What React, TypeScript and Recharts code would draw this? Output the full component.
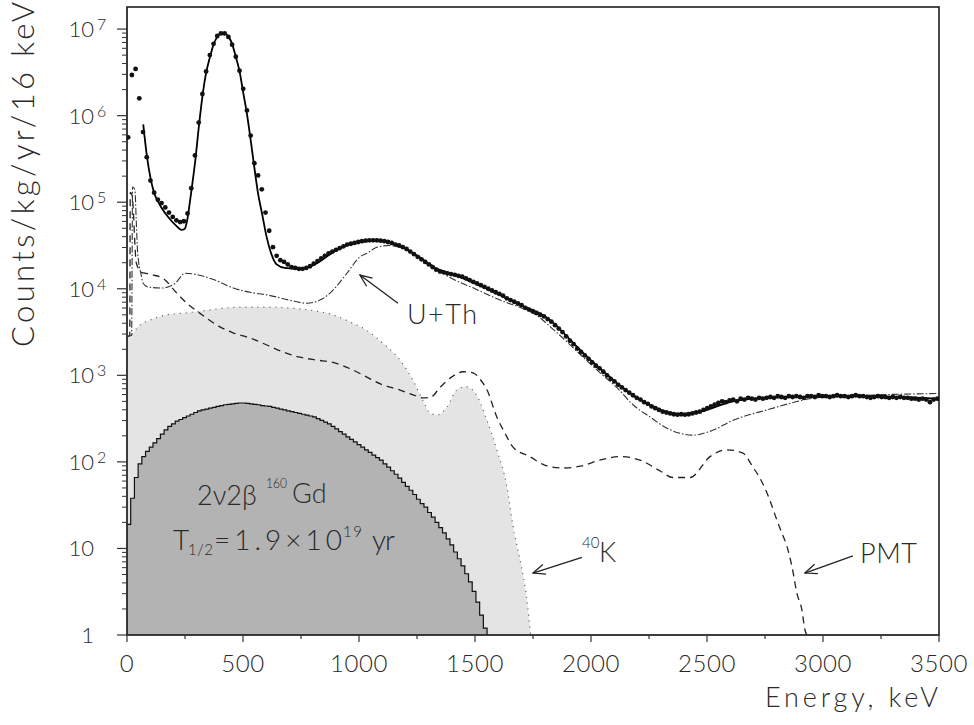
import { Area, ComposedChart, Line, ReferenceArea, ReferenceLine, Scatter, XAxis, YAxis } from "recharts"

// measured spectrum, 16 keV bins: [keV, counts]
const measured: [number, number][] = [
  [5, 562000], [21, 2950000], [37, 3470000], [53, 1585000], [69, 646000], [85, 331000], [101, 178000], [117, 129000],
  [133, 107000], [149, 97700], [165, 87100], [181, 75900], [197, 67600], [213, 61700], [229, 58900], [245, 60300],
  [261, 74100], [277, 145000], [293, 347000], [309, 832000], [325, 1780000], [341, 3240000], [357, 5010000], [373, 6760000],
  [389, 8320000], [405, 8910000], [421, 8910000], [437, 8130000], [453, 6610000], [469, 4790000], [485, 3310000], [501, 2040000],
  [517, 1150000], [533, 589000], [549, 282000], [565, 204000], [581, 141000], [597, 75900], [613, 46800], [629, 30200],
  [645, 24000], [661, 21400], [677, 20400], [693, 19100], [709, 17800], [725, 17400], [741, 17000], [757, 17000],
  [773, 17400], [789, 18200], [805, 19500], [821, 20900], [837, 22400], [853, 24000], [869, 25700], [885, 26900],
  [901, 28200], [917, 29500], [933, 30900], [949, 32400], [965, 33100], [981, 33900], [997, 34700], [1013, 35500],
  [1029, 35900], [1045, 36300], [1061, 36300], [1077, 36300], [1093, 35900], [1109, 35500], [1125, 34700], [1141, 33900],
  [1157, 32400], [1173, 31600], [1189, 30200], [1205, 28800], [1221, 26900], [1237, 25100], [1253, 23400], [1269, 21900],
  [1285, 20400], [1301, 19100], [1317, 17800], [1333, 16600], [1349, 15800], [1365, 15500], [1381, 15100], [1397, 14800],
  [1413, 14500], [1429, 14100], [1445, 13800], [1461, 13200], [1477, 12600], [1493, 12000], [1509, 11500], [1525, 11000],
  [1541, 10500], [1557, 10000], [1573, 9550], [1589, 9120], [1605, 8710], [1621, 8320], [1637, 7760], [1653, 7410],
  [1669, 7080], [1685, 6760], [1701, 6460], [1717, 6030], [1733, 5750], [1749, 5500], [1765, 5250], [1781, 5010],
  [1797, 4790], [1813, 4470], [1829, 4170], [1845, 3800], [1861, 3470], [1877, 3160], [1893, 2820], [1909, 2510],
  [1925, 2290], [1941, 2040], [1957, 1860], [1973, 1700], [1989, 1550], [2005, 1410], [2021, 1290], [2037, 1200],
  [2053, 1100], [2069, 1000], [2085, 912], [2101, 851], [2117, 776], [2133, 724], [2149, 676], [2165, 631],
  [2181, 589], [2197, 550], [2213, 525], [2229, 490], [2245, 468], [2261, 437], [2277, 417], [2293, 398],
  [2309, 380], [2325, 372], [2341, 363], [2357, 355], [2373, 351], [2389, 355], [2405, 351], [2421, 355],
  [2437, 363], [2453, 372], [2469, 380], [2485, 398], [2501, 417], [2517, 437], [2533, 457], [2549, 479],
  [2565, 501], [2581, 490], [2597, 513], [2613, 525], [2629, 501], [2645, 537], [2661, 525], [2677, 550],
  [2693, 537], [2709, 525], [2725, 550], [2741, 537], [2757, 550], [2773, 562], [2789, 550], [2805, 575],
  [2821, 562], [2837, 550], [2853, 575], [2869, 562], [2885, 575], [2901, 562], [2917, 550], [2933, 575],
  [2949, 575], [2965, 562], [2981, 589], [2997, 575], [3013, 575], [3029, 562], [3045, 575], [3061, 589],
  [3077, 575], [3093, 575], [3109, 562], [3125, 575], [3141, 589], [3157, 575], [3173, 575], [3189, 562],
  [3205, 550], [3221, 562], [3237, 575], [3253, 562], [3269, 562], [3285, 550], [3301, 562], [3317, 550],
  [3333, 562], [3349, 550], [3365, 550], [3381, 537], [3397, 537], [3413, 525], [3429, 537], [3445, 525],
  [3461, 490], [3477, 525], [3493, 537],
]

// total fit
const fit: [number, number][] = [
  [70, 794000], [85, 355000], [102, 186000], [118, 126000], [135, 100000], [150, 85100], [180, 66100], [215, 52500],
  [235, 47900], [248, 49000], [260, 63100], [270, 95500], [282, 166000], [293, 282000], [310, 759000], [325, 1660000],
  [340, 3020000], [358, 4790000], [373, 6610000], [389, 8130000], [405, 8910000], [421, 8910000], [438, 8130000],
  [453, 6760000], [469, 4790000], [486, 3160000], [500, 1910000], [517, 1050000], [533, 525000], [549, 251000],
  [565, 126000], [582, 74100], [600, 41700], [620, 26300], [645, 19100], [680, 17400], [745, 17000], [800, 18600],
  [888, 26300], [975, 33900], [1060, 36300], [1177, 31600], [1250, 24000], [1320, 17800], [1392, 15100], [1534, 10500],
  [1681, 6760], [1823, 4370], [1900, 2750], [1966, 1820], [2039, 1200], [2112, 813], [2181, 589], [2254, 457],
  [2370, 355], [2470, 380], [2612, 501], [2758, 550], [2900, 562], [3190, 575], [3332, 562], [3500, 537],
]

// U+Th model (dash-dot)
const uTh: [number, number][] = [
  [0, 2800], [20, 2900], [24, 150000], [34, 140000], [40, 60000], [46, 26000], [60, 15000], [70, 11500],
  [90, 10500], [150, 10200], [207, 11500], [250, 15100], [379, 12600], [458, 10200], [552, 8900], [603, 8500],
  [700, 7400], [775, 6800], [832, 7400], [875, 8900], [948, 15100], [1004, 23400], [1034, 25700], [1077, 30200],
  [1130, 31600], [1177, 30200], [1250, 24500], [1300, 20000], [1392, 13500], [1500, 10000], [1608, 7400], [1700, 6000],
  [1750, 5250], [1850, 3160], [1966, 1620], [2039, 1070], [2112, 720], [2181, 457], [2254, 331], [2327, 245],
  [2400, 209], [2440, 204], [2520, 229], [2612, 302], [2758, 398], [2974, 550], [3190, 589], [3500, 617],
]

// PMT model (dashed)
const pmt: [number, number][] = [
  [0, 2800], [12, 2900], [14, 130000], [22, 120000], [40, 20000], [62, 15500], [86, 15000], [108, 14500],
  [155, 13200], [215, 8900], [258, 6800], [315, 5200], [388, 3800], [457, 3100], [530, 2700], [603, 2240],
  [672, 1860], [745, 1620], [819, 1500], [888, 1410], [960, 1200], [1034, 955], [1090, 800], [1177, 676],
  [1230, 600], [1276, 550], [1310, 560], [1349, 724], [1400, 960], [1448, 1100], [1491, 1070], [1522, 900],
  [1552, 676], [1594, 331], [1629, 215], [1664, 148], [1737, 115], [1800, 92], [1879, 85], [1960, 90],
  [2039, 105], [2125, 115], [2211, 105], [2300, 78], [2353, 66], [2427, 66], [2513, 115], [2586, 138],
  [2655, 126], [2698, 87], [2728, 65], [2758, 44], [2771, 36], [2802, 21], [2823, 15], [2845, 10.5],
  [2866, 6.2], [2888, 3.0], [2909, 1.95], [2922, 1.15], [2930, 1],
]

// 40K model (light grey area)
const k40: [number, number][] = [
  [0, 2750], [20, 2950], [50, 3700], [100, 4350], [170, 5000], [250, 5250], [315, 5500], [400, 5900],
  [500, 6150], [600, 6150], [700, 6000], [800, 5600], [888, 5000], [960, 4150], [1034, 3300], [1103, 2350],
  [1177, 1500], [1233, 870], [1276, 510], [1310, 360], [1340, 350], [1379, 430], [1422, 680], [1460, 740],
  [1500, 630], [1552, 300], [1594, 138], [1638, 51], [1664, 18], [1694, 7.4], [1724, 2.5], [1740, 1],
]

// 2nu2beta 160Gd, 16 keV histogram bins
const gd: [number, number][] = [
  [0, 19], [16, 38], [32, 66], [48, 95], [64, 115], [80, 132], [96, 148], [112, 166],
  [128, 186], [144, 209], [160, 234], [176, 257], [192, 275], [208, 295], [224, 309], [240, 324],
  [256, 339], [272, 355], [288, 372], [304, 389], [320, 398], [336, 407], [352, 417], [368, 427],
  [384, 437], [400, 447], [416, 457], [432, 462], [448, 468], [464, 473], [480, 479], [496, 479],
  [512, 473], [528, 468], [544, 462], [560, 457], [576, 447], [592, 442], [608, 437], [624, 427],
  [640, 417], [656, 407], [672, 398], [688, 389], [704, 380], [720, 372], [736, 363], [752, 355],
  [768, 347], [784, 339], [800, 331], [816, 316], [832, 302], [848, 288], [864, 275], [880, 257],
  [896, 240], [912, 224], [928, 209], [944, 195], [960, 182], [976, 170], [992, 158], [1008, 148],
  [1024, 138], [1040, 129], [1056, 120], [1072, 112], [1088, 105], [1104, 95], [1120, 87], [1136, 79],
  [1152, 72], [1168, 65], [1184, 58], [1200, 52], [1216, 47], [1232, 42], [1248, 37], [1264, 33],
  [1280, 30], [1296, 26], [1312, 23], [1328, 20], [1344, 17.4], [1360, 15.1], [1376, 12.9], [1392, 11],
  [1408, 9.1], [1424, 7.6], [1440, 6.3], [1456, 5.1], [1472, 4.1], [1488, 3.2], [1504, 2.4], [1520, 1.7],
  [1536, 1.2], [1552, 1],
]

const xTicks = [0, 250, 500, 750, 1000, 1250, 1500, 1750, 2000, 2250, 2500, 2750, 3000, 3250, 3500]
const decades = [1, 10, 100, 1000, 10000, 100000, 1000000, 10000000]
const yTicks = decades.flatMap((d) => (d < 10000000 ? [2, 3, 4, 5, 6, 7, 8, 9].map((m) => m * d).concat(d) : [d]))

const rows = (pairs: [number, number][]) => pairs.map(([e, c]) => ({ e, c }))

const FONT = "Lato, 'DejaVu Sans', sans-serif"
const INK = "#2a2a2a"

function YTick({ x, y, payload }: any) {
  const v = payload.value
  const exp = Math.round(Math.log10(v))
  const major = Math.abs(Math.log10(v) - exp) < 1e-6
  if (!major) return <line x1={x - 5} x2={x} y1={y} y2={y} stroke="#333" strokeWidth={1} />
  return (
    <g>
      <line x1={x - 10} x2={x} y1={y} y2={y} stroke="#333" strokeWidth={1.2} />
      <text x={94} y={y + 8} textAnchor="end" fontSize={22} fill={INK} fontFamily={FONT} fontWeight={300}>
        {exp === 0 ? "1" : "10"}
      </text>
      {exp > 1 && (
        <text x={97} y={y + 1} fontSize={16} fill={INK} fontFamily={FONT} fontWeight={300}>
          {exp}
        </text>
      )}
    </g>
  )
}

function XTick({ x, y, payload }: any) {
  const major = payload.value % 500 === 0
  return (
    <g>
      <line x1={x} x2={x} y1={y} y2={y + (major ? 7 : 4)} stroke="#333" strokeWidth={1.2} />
      {major && (
        <text x={x} y={y + 37} textAnchor="middle" fontSize={24} letterSpacing={0.6} fill={INK} fontFamily={FONT} fontWeight={300}>
          {payload.value}
        </text>
      )}
    </g>
  )
}

export default function App() {
  return (
    <div style={{ position: "absolute", left: 0, top: 0, width: 974, height: 725, background: "#fff" }}>
      <ComposedChart width={974} height={725} margin={{ top: 7, right: 35, bottom: 0, left: 0 }}>
        <defs>
          <marker id="arrowHead" markerWidth={14} markerHeight={12} refX={13} refY={6} orient="auto" markerUnits="userSpaceOnUse">
            <path d="M1,1 L13,6 L1,11" fill="none" stroke="#222" strokeWidth={1.3} />
          </marker>
        </defs>
        <XAxis
          type="number"
          dataKey="e"
          domain={[0, 3500]}
          allowDataOverflow
          ticks={xTicks}
          interval={0}
          tickSize={0}
          tickMargin={0}
          tick={<XTick />}
          height={90}
          axisLine={{ stroke: "#333", strokeWidth: 1.2 }}
        />
        <YAxis
          type="number"
          scale="log"
          domain={[1, 18000000]}
          allowDataOverflow
          ticks={yTicks}
          interval={0}
          tickSize={0}
          tickMargin={0}
          tick={<YTick />}
          width={127}
          axisLine={{ stroke: "#333", strokeWidth: 1.2 }}
        />
        <Area
          data={rows(k40)}
          dataKey="c"
          type="monotone"
          baseValue={1}
          fill="#e4e4e4"
          fillOpacity={1}
          stroke="#555"
          strokeWidth={1.2}
          strokeDasharray="1 5"
          isAnimationActive={false}
        />
        <Area
          data={rows(gd)}
          dataKey="c"
          type="stepAfter"
          baseValue={1}
          fill="#b3b3b3"
          fillOpacity={1}
          stroke="#111"
          strokeWidth={1.2}
          isAnimationActive={false}
        />
        <Line data={rows(pmt)} dataKey="c" type="monotone" stroke="#222" strokeWidth={1.3} strokeDasharray="7 5" dot={false} isAnimationActive={false} />
        <Line data={rows(uTh)} dataKey="c" type="monotone" stroke="#333" strokeWidth={1.1} strokeDasharray="7 2 1.5 2" dot={false} isAnimationActive={false} />
        <Line data={rows(fit)} dataKey="c" type="monotone" stroke="#000" strokeWidth={1.8} dot={false} isAnimationActive={false} />
        <Scatter
          data={rows(measured)}
          dataKey="c"
          isAnimationActive={false}
          shape={(p: any) => <circle cx={p.cx} cy={p.cy} r={2.4} fill="#111" />}
        />
        <ReferenceArea x1={0} x2={3500} y1={1} y2={18000000} fill="none" stroke="#111" strokeWidth={1.5} />
        <ReferenceLine segment={[{ x: 1168, y: 6800 }, { x: 1004, y: 14400 }]} stroke="#222" strokeWidth={1.3} markerEnd="url(#arrowHead)" />
        <ReferenceLine segment={[{ x: 1961, y: 7.9 }, { x: 1750, y: 5.2 }]} stroke="#222" strokeWidth={1.3} markerEnd="url(#arrowHead)" />
        <ReferenceLine segment={[{ x: 3129, y: 8.2 }, { x: 2922, y: 5.2 }]} stroke="#222" strokeWidth={1.3} markerEnd="url(#arrowHead)" />
      </ComposedChart>
      <svg width={974} height={725} style={{ position: "absolute", left: 0, top: 0, pointerEvents: "none" }}>
        <g fill={INK} fontFamily={FONT} fontWeight={300}>
          <text transform="translate(34,347) rotate(-90)" fontSize={31} textLength={345} lengthAdjust="spacing">
            Counts/kg/yr/16 keV
          </text>
          <text x={765} y={707} fontSize={27} textLength={173} lengthAdjust="spacing">
            Energy, keV
          </text>
          <text x={407} y={324} fontSize={27} textLength={70} lengthAdjust="spacing">U+Th</text>
          <text x={582} y={548} fontSize={15}>40</text>
          <text x={599} y={562} fontSize={27}>K</text>
          <text x={860} y={563} fontSize={27} textLength={57} lengthAdjust="spacing">PMT</text>
          <text x={197} y={505} fontSize={27}>2ν2β</text>
          <text x={266} y={488} fontSize={14} textLength={21} lengthAdjust="spacingAndGlyphs">160</text>
          <text x={292} y={503} fontSize={27}>Gd</text>
          <text x={173} y={550} fontSize={28}>T</text>
          <text x={188} y={555} fontSize={15} textLength={25} lengthAdjust="spacing">1/2</text>
          <text x={214} y={550} fontSize={28} textLength={128} lengthAdjust="spacing">=1.9×10</text>
          <text x={343} y={537} fontSize={15} textLength={19} lengthAdjust="spacing">19</text>
          <text x={372} y={550} fontSize={28} textLength={23} lengthAdjust="spacing">yr</text>
        </g>
      </svg>
    </div>
  )
}
